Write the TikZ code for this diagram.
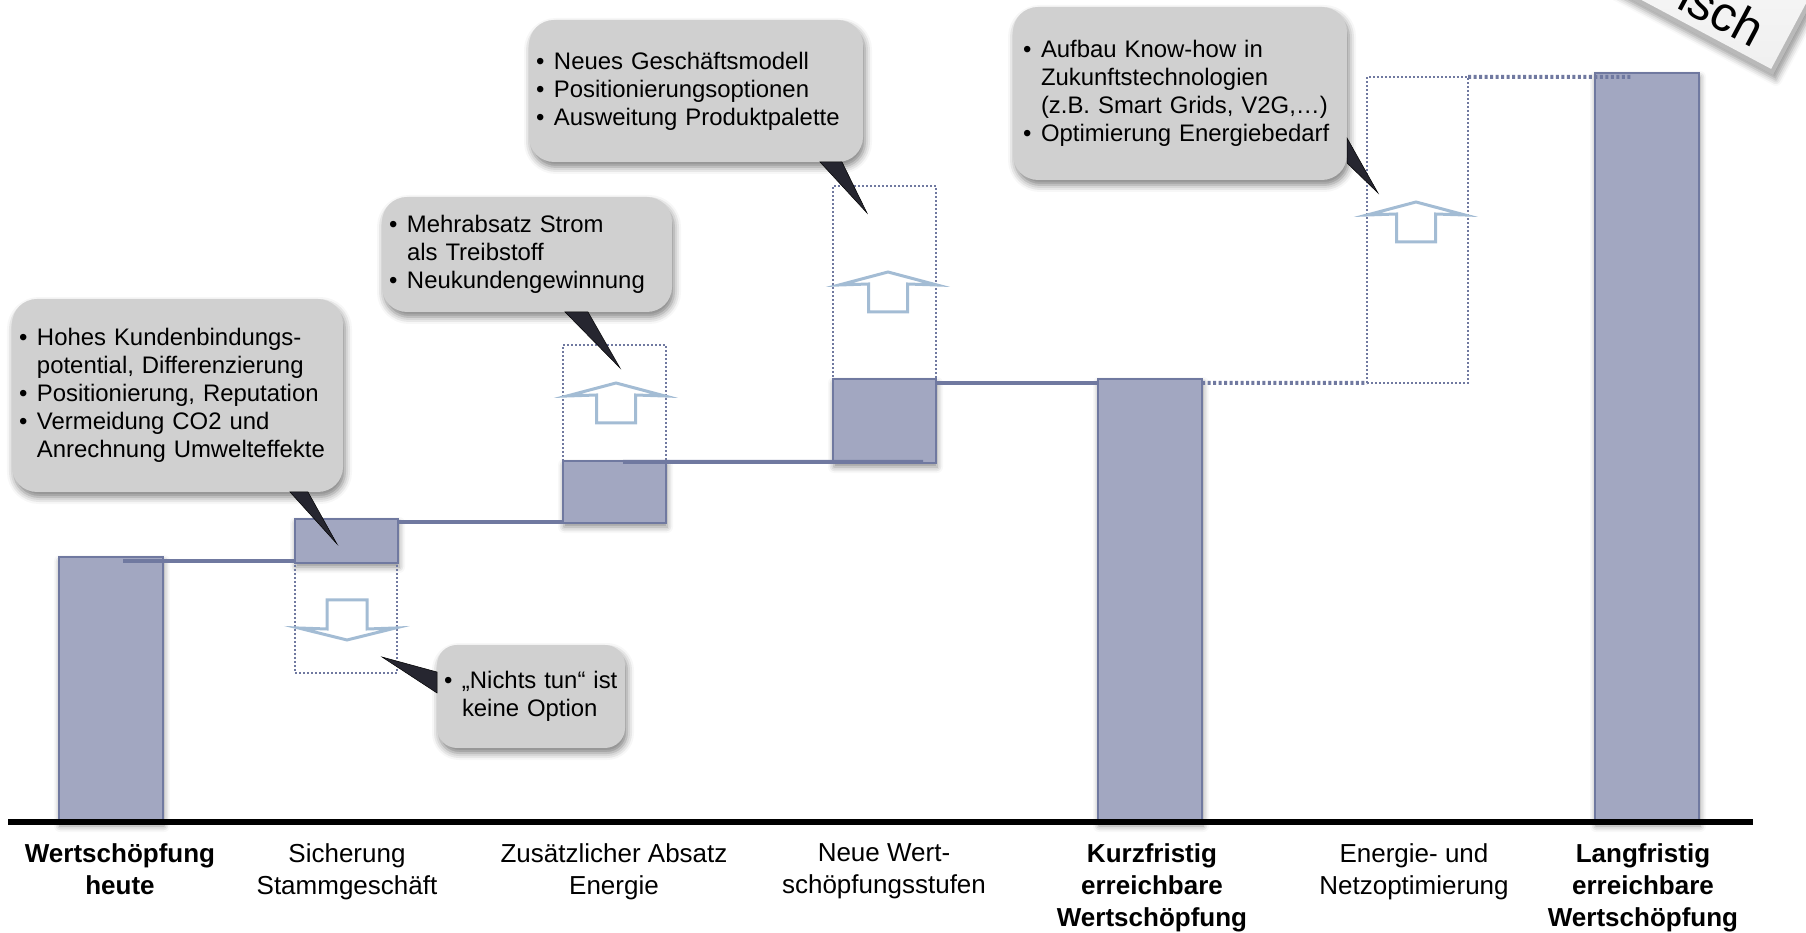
\documentclass[tikz,border=0pt]{standalone}
\usepackage{fontspec}
\setmainfont{Liberation Sans}
\usetikzlibrary{positioning, calc, shadows.blur}
\definecolor{barfill}{RGB}{162,167,193}
\definecolor{barline}{RGB}{112,121,160}
\definecolor{calloutgray}{RGB}{208,208,208}
\definecolor{arrowblue}{RGB}{163,188,212}
\definecolor{pointerdark}{RGB}{38,38,48}
\newcommand{\labelfont}{\fontsize{7.4}{9.1}\selectfont}
\newcommand{\calloutfont}{\fontsize{6.8}{7.97}\selectfont}
\newcommand{\bul}{\makebox[0.18cm][l]{\textbullet}}
\newcommand{\bulpad}{\hspace*{0.18cm}}

\begin{document}
\begin{tikzpicture}[
    bar/.style={fill=barfill, draw=barline, line width=0.02cm, inner sep=0pt, outer sep=0pt, anchor=north west,
      blur shadow={shadow xshift=0.01cm, shadow yshift=-0.04cm, shadow blur radius=0.06cm, shadow opacity=45}},
    levelline/.style={draw=barline, line width=0.04cm},
    gapbox/.style={draw=barline, line width=0.018cm, dash pattern=on 0.018cm off 0.022cm, inner sep=0pt, outer sep=0pt},
    gapline/.style={draw=barline, line width=0.04cm, dash pattern=on 0.03cm off 0.025cm},
    hollowarrow/.style={draw=arrowblue, line width=0.03cm, fill=white, line join=miter},
    callout/.style={fill=calloutgray, rounded corners=0.25cm, align=left, anchor=north west,
      inner xsep=0.07cm, inner ysep=0pt, outer sep=0pt, font=\calloutfont,
      blur shadow={shadow xshift=0.02cm, shadow yshift=-0.05cm, shadow blur radius=0.07cm, shadow opacity=50}},
    pointer/.style={fill=pointerdark, draw=black, line width=0.005cm},
    axislabel/.style={anchor=north, align=center, inner sep=0pt, font=\labelfont},
  ]
  \useasboundingbox (0,0) rectangle (18.06,-9.33);

  % bars of the waterfall
  \node[bar, minimum width=1.04cm, minimum height=2.65cm] (b1) at (0.59,-5.57) {};
  \node[bar, minimum width=1.03cm, minimum height=0.44cm] (b2) at (2.95,-5.19) {};
  \node[bar, minimum width=1.03cm, minimum height=0.62cm] (b3) at (5.63,-4.61) {};
  \node[bar, minimum width=1.03cm, minimum height=0.84cm] (b4) at (8.33,-3.79) {};
  \node[bar, minimum width=1.04cm, minimum height=4.43cm] (b5) at (10.98,-3.79) {};
  \node[bar, minimum width=1.04cm, minimum height=7.49cm] (b7) at (15.95,-0.73) {};

  % levels carried over
  \draw[levelline] ([xshift=0.64cm, yshift=-0.04cm]b1.north west) -- ([yshift=0.02cm]b2.south west);
  \draw[levelline] ([yshift=-0.03cm]b2.north east) -- ([yshift=-0.61cm]b3.north west);
  \draw[levelline] ([xshift=0.60cm, yshift=-0.01cm]b3.north west) -- ([xshift=0.90cm, yshift=0.01cm]b4.south west);
  \draw[levelline] ([yshift=-0.04cm]b4.north east) -- ([yshift=-0.04cm]b5.north west);

  % potentials (dotted)
  \node[gapbox, anchor=north west, minimum width=1.02cm, minimum height=1.10cm] (g2) at (b2.south west) {};
  \node[gapbox, anchor=south west, minimum width=1.03cm, minimum height=1.16cm] (g3) at (b3.north west) {};
  \node[gapbox, anchor=south west, minimum width=1.03cm, minimum height=1.93cm] (g4) at (b4.north west) {};
  \node[gapbox, anchor=north west, minimum width=1.01cm, minimum height=3.06cm] (g6) at (13.67,-0.77) {};
  \draw[gapline] ([yshift=-0.04cm]b5.north east) -- (g6.south west);
  \draw[gapline] (g6.north east) -- ([xshift=0.36cm, yshift=-0.04cm]b7.north west);

  % hollow arrows
  \foreach \ax/\ay in {6.16/-3.83, 8.88/-2.72, 14.16/-2.02}
    \draw[hollowarrow, shift={(\ax,\ay)}] (0,0) -- (0.49,-0.13) -- (0.195,-0.12) -- (0.195,-0.40)
      -- (-0.195,-0.40) -- (-0.195,-0.12) -- (-0.49,-0.13) -- cycle;
  \draw[hollowarrow, shift={(3.47,-6.40)}] (0,0) -- (0.485,0.12) -- (0.20,0.11) -- (0.20,0.40)
    -- (-0.20,0.40) -- (-0.20,0.11) -- (-0.485,0.12) -- cycle;

  % callouts
  \node[callout, text width=3.17cm, minimum width=3.31cm, minimum height=1.93cm] (c1) at (0.12,-2.99)
    {\bul Hohes Kundenbindungs-\\\bulpad potential, Differenzierung\\\bul Positionierung, Reputation\\\bul Vermeidung CO2 und\\\bulpad Anrechnung Umwelteffekte};
  \node[callout, text width=2.76cm, minimum width=2.90cm, minimum height=1.15cm] (c2) at (3.82,-1.97)
    {\bul Mehrabsatz Strom\\\bulpad als Treibstoff\\\bul Neukundengewinnung};
  \node[callout, text width=3.20cm, minimum width=3.34cm, minimum height=1.42cm] (c3) at (5.29,-0.20)
    {\bul Neues Geschäftsmodell\\\bul Positionierungsoptionen\\\bul Ausweitung Produktpalette};
  \node[callout, inner xsep=0.10cm, text width=3.14cm, minimum width=3.34cm, minimum height=1.73cm] (c4) at (10.13,-0.07)
    {\bul Aufbau Know-how in\\\bulpad Zukunftstechnologien\\\bulpad (z.B. Smart Grids, V2G,…)\\\bul Optimierung Energiebedarf};
  \node[callout, rounded corners=0.2cm, text width=1.74cm, minimum width=1.88cm, minimum height=1.03cm] (c5) at (4.37,-6.45)
    {\bul „Nichts tun“ ist\\\bulpad keine Option};

  % pointers
  \coordinate (t1) at (3.37,-5.44);
  \coordinate (t2) at (6.20,-3.68);
  \coordinate (t3) at (8.67,-2.13);
  \coordinate (t4) at (13.78,-1.93);
  \coordinate (t5) at (3.82,-6.57);
  \draw[pointer] ($(c1.south west)+(2.78,0)$) -- (t1) -- ($(c1.south west)+(2.96,0)$) -- cycle;
  \draw[pointer] ($(c2.south west)+(1.83,0)$) -- (t2) -- ($(c2.south west)+(2.06,0)$) -- cycle;
  \draw[pointer] ($(c3.south west)+(2.91,0)$) -- (t3) -- ($(c3.south west)+(3.13,0)$) -- cycle;
  \draw[pointer] ($(c4.south east)+(0,0.42)$) -- (t4) -- ($(c4.south east)+(0,0.17)$) -- cycle;
  \draw[pointer] ($(c5.south west)+(0,0.76)$) -- (t5) -- ($(c5.south west)+(0,0.55)$) -- cycle;

  % axis
  \coordinate (axl) at (0.08,-8.22);
  \coordinate (axr) at (17.53,-8.22);
  \draw[line width=0.065cm] (axl) -- (axr);

  \node[axislabel, font=\labelfont\bfseries] (l1) at (1.20,-8.43) {Wertschöpfung\\heute};
  \node[axislabel] (l2) at (3.47,-8.43) {Sicherung\\Stammgeschäft};
  \node[axislabel] (l3) at (6.14,-8.43) {Zusätzlicher Absatz\\Energie};
  \node[axislabel] (l4) at (8.84,-8.43) {Neue Wert-\\schöpfungsstufen};
  \node[axislabel, font=\labelfont\bfseries] (l5) at (11.52,-8.43) {Kurzfristig\\erreichbare\\Wertschöpfung};
  \node[axislabel] (l6) at (14.14,-8.43) {Energie- und\\Netzoptimierung};
  \node[axislabel, font=\labelfont\bfseries] (l7) at (16.43,-8.43) {Langfristig\\erreichbare\\Wertschöpfung};

  % stamp in the corner
  \begin{scope}[shift={(17.73,-0.75)}, rotate=-28]
    \fill[gray!55, blur shadow={shadow xshift=0.03cm, shadow yshift=-0.05cm, shadow blur radius=0.06cm}] (-3.5,0) rectangle (0,0.95);
    \shade[top color=white, bottom color=gray!12] (-3.5,0.045) rectangle (-0.045,0.95);
    \node[anchor=base east, inner sep=0pt, transform shape, font=\fontsize{14}{16}\selectfont] (stamp) at (-0.30,0.14) {isch};
  \end{scope}
\end{tikzpicture}
\end{document}
